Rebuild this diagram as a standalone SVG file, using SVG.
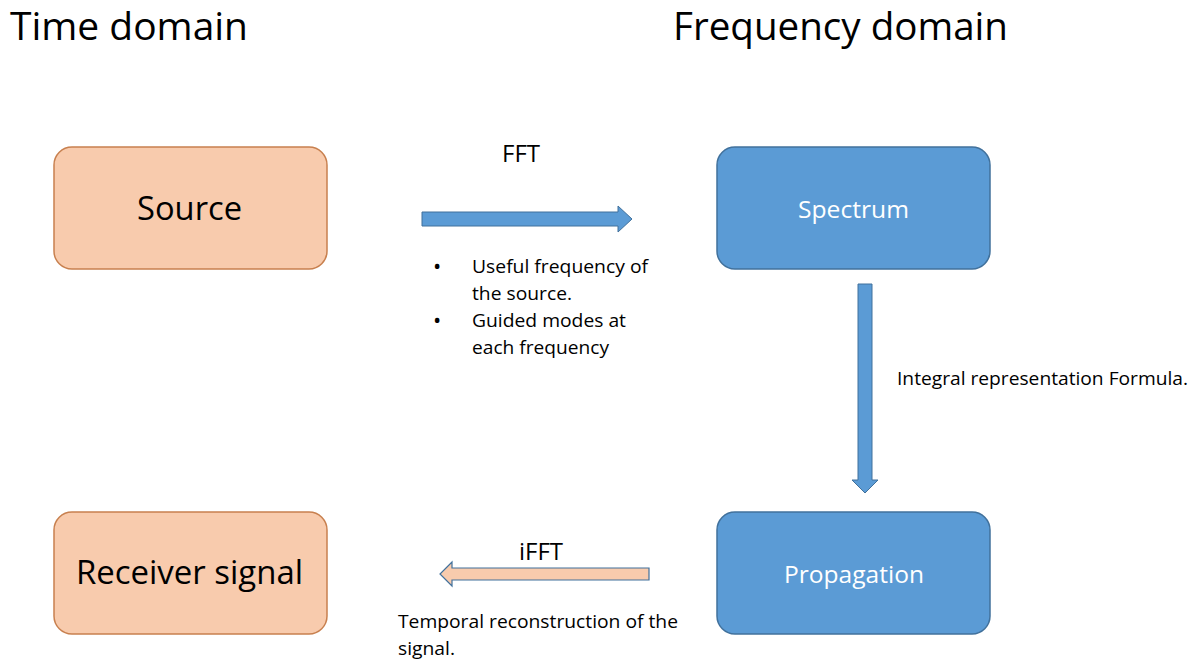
<svg xmlns="http://www.w3.org/2000/svg" width="1198" height="660" viewBox="0 0 1198 660">
<style>
text{font-family:"Open Sans","Noto Sans","Liberation Sans",sans-serif;fill:#000}
.org{fill:#f8cbad;stroke:#c8804f;stroke-width:1.5}
.blu{fill:#5b9bd5;stroke:#41719c;stroke-width:1.5}
.title{font-size:39px}
.big{font-size:33px}
.mid{font-size:23px}
.wt{fill:#fff}
.sm{font-size:17.5px}
.bul{font-size:22px}
.arrB{fill:#5b9bd5;stroke:#41719c;stroke-width:1}
.arrO{fill:#f8cbad;stroke:#41719c;stroke-width:1.2}
</style>
<rect width="1198" height="660" fill="#fff"/>
<g id="titles">
<text class="title" x="10" y="40" textLength="238" lengthAdjust="spacingAndGlyphs">Time domain</text>
<text class="title" x="673" y="40" textLength="335" lengthAdjust="spacingAndGlyphs">Frequency domain</text>
</g>
<g id="source">
<rect class="org" x="54" y="147" width="273" height="122" rx="18"/>
<text class="big" x="137" y="220" textLength="105" lengthAdjust="spacingAndGlyphs">Source</text>
</g>
<g id="spectrum">
<rect class="blu" x="717" y="147" width="273" height="122" rx="18"/>
<text class="mid wt" x="798" y="218" textLength="111" lengthAdjust="spacingAndGlyphs">Spectrum</text>
</g>
<g id="propagation">
<rect class="blu" x="717" y="512" width="273" height="122" rx="18"/>
<text class="mid wt" x="784" y="583" textLength="140" lengthAdjust="spacingAndGlyphs">Propagation</text>
</g>
<g id="receiver">
<rect class="org" x="54" y="512" width="273" height="122" rx="18"/>
<text class="big" x="76" y="584" textLength="227" lengthAdjust="spacingAndGlyphs">Receiver signal</text>
</g>
<g id="connectors">
<polygon class="arrB" points="422,212 618,212 618,206 632,219 618,232 618,226 422,226"/>
<polygon class="arrB" points="858,284 872,284 872,480 878,480 865,493 852,480 858,480"/>
<polygon class="arrO" points="649,568 452,568 452,562 440,574 452,586 452,580 649,580"/>
</g>
<g id="labels">
<text class="mid" x="502" y="162" font-size="22" textLength="38" lengthAdjust="spacingAndGlyphs">FFT</text>
<text class="bul" x="433" y="274">•</text>
<text class="sm" x="472" y="273" textLength="176" lengthAdjust="spacingAndGlyphs">Useful frequency of</text>
<text class="sm" x="472" y="300" textLength="100" lengthAdjust="spacingAndGlyphs">the source.</text>
<text class="bul" x="433" y="328">•</text>
<text class="sm" x="472" y="327" textLength="154" lengthAdjust="spacingAndGlyphs">Guided modes at</text>
<text class="sm" x="472" y="354" textLength="137" lengthAdjust="spacingAndGlyphs">each frequency</text>
<text class="sm" x="897" y="385" font-size="17" textLength="291" lengthAdjust="spacingAndGlyphs">Integral representation Formula.</text>
<text class="mid" x="519" y="560" font-size="22" textLength="44" lengthAdjust="spacingAndGlyphs">iFFT</text>
<text class="sm" x="398" y="628" textLength="280" lengthAdjust="spacingAndGlyphs">Temporal reconstruction of the</text>
<text class="sm" x="398" y="655" textLength="57" lengthAdjust="spacingAndGlyphs">signal.</text>
</g>
</svg>
